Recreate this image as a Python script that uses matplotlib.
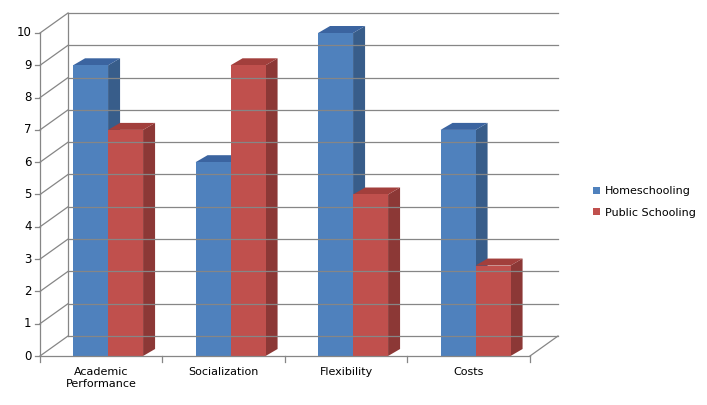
import matplotlib
matplotlib.use("Agg")
import matplotlib.pyplot as plt
from matplotlib.patches import Polygon, Patch

categories = ["Academic\nPerformance", "Socialization", "Flexibility", "Costs"]
home = [9, 6, 10, 7]
public = [7, 9, 5, 2.8]
yticks = list(range(0, 11))

W, H = 707, 405
fig = plt.figure(figsize=(W/100, H/100), dpi=100)
ax = fig.add_axes([40/W, (H-356)/H, 490/W, 323/H])
ax.set_xlim(0, 4); ax.set_ylim(0, 10)
ax.axis("off")

wdx, wdy = 28/122.5, 20/32.3   # wall depth
bdx, bdy = 12/122.5, 7/32.3    # bar depth
grid = "#868686"
# back wall grid and left wall diagonals
for y in yticks:
    ax.plot([wdx, 4+wdx], [y+wdy, y+wdy], color=grid, lw=0.9, clip_on=False)
    ax.plot([0, wdx], [y, y+wdy], color=grid, lw=0.9, clip_on=False)
    ax.plot([-0.04, 0], [y, y], color=grid, lw=0.9, clip_on=False)
    ax.text(-0.07, y, str(y), ha="right", va="center", fontsize=8.5, color="#000")
ax.plot([wdx, wdx], [wdy, 10+wdy], color=grid, lw=0.9, clip_on=False)
ax.plot([0, 0], [0, 10], color=grid, lw=0.9, clip_on=False)
ax.plot([0, 4], [0, 0], color=grid, lw=0.9, clip_on=False)
ax.plot([4, 4+wdx], [0, wdy], color=grid, lw=0.9, clip_on=False)
for i in range(5):
    ax.plot([i, i], [0, -0.2], color=grid, lw=0.9, clip_on=False)
for i, c in enumerate(categories):
    ax.text(i+0.5, -0.35, c, ha="center", va="top", fontsize=8, color="#000")

def bar3d(x0, w, h, front, side, top):
    ax.add_patch(Polygon([(x0+w, 0), (x0+w+bdx, bdy), (x0+w+bdx, h+bdy), (x0+w, h)],
                         closed=True, fc=side, ec="none", clip_on=False))
    ax.add_patch(Polygon([(x0, h), (x0+bdx, h+bdy), (x0+w+bdx, h+bdy), (x0+w, h)],
                         closed=True, fc=top, ec="none", clip_on=False))
    ax.add_patch(Polygon([(x0, 0), (x0+w, 0), (x0+w, h), (x0, h)],
                         closed=True, fc=front, ec="none", clip_on=False))

bw = 35/122.5
for i in range(4):
    bar3d(i+0.27, bw, home[i], "#4F81BD", "#385D8A", "#3B64A0")
    bar3d(i+0.27+bw, bw, public[i], "#C0504D", "#8C3836", "#A23F3C")

fig.legend(handles=[Patch(fc="#4F81BD"), Patch(fc="#C0504D")],
           labels=["Homeschooling", "Public Schooling"], loc="center left",
           bbox_to_anchor=(583/W, 1-202/H), frameon=False, fontsize=8,
           handlelength=0.6, handleheight=0.6, handletextpad=0.5, labelspacing=1.0)
fig.savefig("out.png", dpi=100, facecolor="white")
